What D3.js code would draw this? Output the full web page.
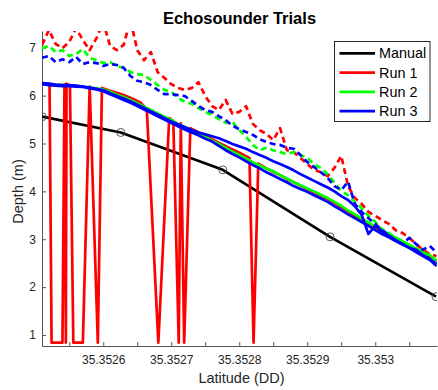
<!DOCTYPE html>
<html>
<head>
<meta charset="utf-8">
<script src="https://cdn.jsdelivr.net/npm/d3@7"></script>
<style>
  html, body { margin: 0; padding: 0; background: #ffffff; }
  svg { display: block; }
  text { font-family: "Liberation Sans", Arial, Helvetica, sans-serif; }
</style>
</head>
<body>
<div id="chart"></div>
<script>
// ---------------- DATA ----------------
const chartTitle = "Echosounder Trials";
const xLabel = "Latitude (DD)";
const yLabel = "Depth (m)";
const legendNames = ["Manual", "Run 1", "Run 2", "Run 3"];
const legendColors = ["#000000", "#ff0000", "#00ff00", "#0000ff"];

const xTickValues = [35.35255, 35.3526, 35.35265, 35.3527, 35.35275, 35.3528, 35.35285, 35.3529, 35.35295, 35.353, 35.35305];
const xTickLabels = ["", "35.3526", "", "35.3527", "", "35.3528", "", "35.3529", "", "35.353", ""];
const yTickValues = [1, 2, 3, 4, 5, 6, 7];
const xDomain = [35.3525099, 35.3530908];
const yDomain = [0.77, 7.35];

// Manual survey points
const manualLat = [35.3525104, 35.3526257, 35.3527757, 35.3529335, 35.3530894];
const manualDepth = [5.56, 5.23, 4.45, 3.05, 1.80];

// Common latitude samples of the echosounder tracks
const trackLat = [
  35.35251, 35.35252, 35.35253, 35.35254, 35.35255, 35.35256, 35.35257, 35.35258, 35.35259, 35.35260,
  35.35261, 35.35262, 35.35263, 35.35264, 35.35265, 35.35266, 35.35267, 35.35268, 35.35269, 35.35270,
  35.35271, 35.35272, 35.35273, 35.35274, 35.35275, 35.35276, 35.35277, 35.35278, 35.35279, 35.35280,
  35.35281, 35.35282, 35.35283, 35.35284, 35.35285, 35.35286, 35.35287, 35.35288, 35.35289, 35.35290,
  35.35291, 35.35292, 35.35293, 35.35294, 35.35295, 35.35296, 35.35297, 35.35298, 35.35299, 35.35300,
  35.35301, 35.35302, 35.35303, 35.35304, 35.35305, 35.35306, 35.35307, 35.35308, 35.35309
];

// Run 1 bottom track (own samples, with dropouts)
const run1Lat = [
  35.35251, 35.352517, 35.352521, 35.352524, 35.352529, 35.352535, 35.35254, 35.352543, 35.352545, 35.352546,
  35.352548, 35.352551, 35.352556, 35.352561, 35.35257, 35.35258, 35.352592, 35.352598, 35.35261, 35.352625,
  35.352639, 35.352654, 35.352664, 35.352681, 35.352697, 35.352703, 35.352711, 35.352714, 35.352719, 35.352728,
  35.352742, 35.352764, 35.352786, 35.352801, 35.352815, 35.352821, 35.352828,
  35.35284, 35.35285, 35.35286, 35.35287, 35.35288, 35.35289, 35.35290, 35.35291, 35.35292, 35.35293,
  35.35294, 35.35295, 35.35296, 35.35297, 35.35298, 35.35299, 35.35300, 35.35301, 35.35302, 35.35303,
  35.35304, 35.35305, 35.35306, 35.35307, 35.35308, 35.35309
];
const run1Depth = [
  6.26, 6.25, 6.24, 0.84, 0.84, 0.84, 0.84, 6.23, 0.84, 6.25,
  6.23, 6.21, 0.84, 0.84, 0.84, 6.19, 0.84, 6.16, 6.10, 6.04,
  5.96, 5.86, 5.72, 0.84, 5.53, 5.47, 0.84, 5.42, 0.84, 5.32,
  5.22, 5.06, 4.90, 4.80, 4.70, 0.84, 4.58,
  4.48, 4.41, 4.34, 4.26, 4.19, 4.12, 4.05, 3.98, 3.91, 3.84,
  3.76, 3.67, 3.58, 3.49, 3.41, 3.33, 3.25, 3.16, 3.09, 3.01,
  2.94, 2.86, 2.79, 2.71, 2.64, 2.53
];
const run1Dashed = [
  7.06, 7.37, 7.08, 6.99, 7.12, 7.41, 7.16, 6.95, 7.20, 7.54,
  7.04, 6.95, 7.06, 7.58, 6.95, 6.74, 6.91, 6.49, 6.37, 6.24,
  6.16, 6.12, 6.16, 6.28, 5.99, 5.78, 5.70, 5.91, 5.62, 5.66,
  5.78, 5.41, 5.28, 5.20, 5.07, 5.32, 4.86, 4.82, 4.70, 4.57,
  4.45, 4.40, 4.32, 4.49, 4.74, 4.11, 3.86, 3.74, 3.57, 3.49,
  3.40, 3.32, 3.19, 3.13, 3.03, 2.90, 2.78, 2.69, 2.65
];

// Run 2
const run2Solid = [
  6.25, 6.24, 6.23, 6.22, 6.21, 6.20, 6.19, 6.17, 6.15, 6.13,
  6.08, 6.02, 5.97, 5.91, 5.84, 5.77, 5.70, 5.63, 5.56, 5.49,
  5.41, 5.35, 5.28, 5.21, 5.14, 5.06, 4.99, 4.91, 4.83, 4.76,
  4.69, 4.61, 4.54, 4.48, 4.42, 4.34, 4.27, 4.19, 4.13, 4.06,
  4.00, 3.93, 3.86, 3.78, 3.70, 3.60, 3.52, 3.43, 3.35, 3.27,
  3.18, 3.11, 3.03, 2.96, 2.88, 2.81, 2.73, 2.67, 2.56
];
const run2Dashed = [
  6.99, 7.04, 6.91, 6.95, 6.83, 6.87, 6.97, 6.79, 6.74, 6.68,
  6.70, 6.62, 6.58, 6.49, 6.45, 6.43, 6.33, 6.22, 6.12, 6.08,
  5.95, 5.87, 5.83, 5.74, 5.66, 5.60, 5.51, 5.43, 5.45, 5.28,
  5.14, 4.97, 4.86, 4.91, 4.86, 4.82, 4.78, 4.82, 4.76, 4.70,
  4.57, 4.49, 4.36, 4.18, 4.01, 3.92, 3.78, 3.65, 3.49, 3.36,
  3.21, 3.13, 3.03, 2.96, 2.88, 2.80, 2.73, 2.63, 2.53
];

// Run 3
const run3SolidA = [
  6.24, 6.22, 6.21, 6.20, 6.20, 6.19, 6.18, 6.15, 6.13, 6.09,
  6.03, 5.97, 5.91, 5.85, 5.78, 5.71, 5.64, 5.57, 5.50, 5.43,
  5.36, 5.29, 5.23, 5.17, 5.10, 5.04, 4.95, 4.86, 4.78, 4.71,
  4.63, 4.55, 4.48, 4.40, 4.33, 4.26, 4.19, 4.11, 4.05, 3.99,
  3.92, 3.85, 3.78, 3.69, 3.61, 3.52, 3.44, 3.36, 3.28, 3.19,
  3.11, 3.04, 2.96, 2.89, 2.82, 2.73, 2.65, 2.57, 2.44
];
const run3SolidB = [
  6.26, 6.25, 6.23, 6.22, 6.22, 6.21, 6.19, 6.17, 6.14, 6.11,
  6.05, 5.99, 5.94, 5.88, 5.81, 5.74, 5.67, 5.60, 5.53, 5.46,
  5.40, 5.34, 5.28, 5.23, 5.19, 5.15, 5.11, 5.05, 4.99, 4.94,
  4.89, 4.82, 4.76, 4.70, 4.63, 4.57, 4.51, 4.44, 4.36, 4.29,
  4.22, 4.15, 4.08, 4.00, 3.90, 3.82, 3.69, 3.51, 3.11, 3.28,
  3.17, 3.07, 2.98, 2.90, 2.82, 2.78, 2.67, 2.59, 2.48
];
const run3Dashed = [
  6.79, 6.83, 6.70, 6.76, 6.70, 6.81, 6.66, 6.70, 6.68, 6.62,
  6.66, 6.64, 6.58, 6.41, 6.31, 6.28, 6.22, 6.12, 6.03, 6.03,
  6.01, 5.99, 5.89, 5.78, 5.70, 5.66, 5.57, 5.49, 5.37, 5.30,
  5.24, 5.18, 5.09, 5.03, 4.99, 4.97, 4.91, 4.89, 4.76, 4.61,
  4.51, 4.40, 4.28, 4.11, 4.03, 4.20, 3.74, 3.57, 3.44, 3.32,
  3.19, 3.09, 2.96, 2.90, 3.03, 2.90, 2.78, 2.86, 2.73
];

// ---------------- DRAWING ----------------
const W = 438, H = 390;
const plot = { left: 42, right: 437, top: 31, bottom: 346 };

const svg = d3.select("#chart").append("svg")
  .attr("width", W).attr("height", H)
  .attr("viewBox", `0 0 ${W} ${H}`);

svg.append("rect").attr("width", W).attr("height", H).attr("fill", "#ffffff");

const x = d3.scaleLinear().domain(xDomain).range([plot.left, plot.right]);
const y = d3.scaleLinear().domain(yDomain).range([plot.bottom, plot.top]);

svg.append("defs").append("clipPath").attr("id", "plotclip")
  .append("rect")
  .attr("x", plot.left).attr("y", plot.top)
  .attr("width", plot.right - plot.left).attr("height", plot.bottom - plot.top);

// Axes
const axisColor = "#262626";
const xAxis = d3.axisBottom(x)
  .tickValues(xTickValues)
  .tickFormat((d, i) => xTickLabels[i])
  .tickSizeInner(-4).tickSizeOuter(0).tickPadding(9.5);
const yAxis = d3.axisLeft(y)
  .tickValues(yTickValues)
  .tickFormat(d3.format("d"))
  .tickSizeInner(-4).tickSizeOuter(0).tickPadding(6);

const gx = svg.append("g").attr("transform", `translate(0,${plot.bottom})`).call(xAxis);
const gy = svg.append("g").attr("transform", `translate(${plot.left},0)`).call(yAxis);
[gx, gy].forEach(g => {
  g.select(".domain").attr("stroke", "#555555").attr("stroke-width", 1);
  g.selectAll(".tick line").attr("stroke", "#555555").attr("stroke-width", 1);
  g.selectAll(".tick text").attr("fill", axisColor).attr("font-size", "12px")
    .attr("font-family", '"Liberation Sans", Arial, sans-serif');
});

// Data layer
const layer = svg.append("g").attr("clip-path", "url(#plotclip)");
const line = d3.line().x(d => x(d[0])).y(d => y(d[1]));
const zipXY = (xs, ys) => d3.range(Math.min(xs.length, ys.length)).map(i => [xs[i], ys[i]]);

function drawLine(xs, ys, color, dashed) {
  layer.append("path")
    .datum(zipXY(xs, ys))
    .attr("d", line)
    .attr("fill", "none")
    .attr("stroke", color)
    .attr("stroke-width", 2.7)
    .attr("stroke-linejoin", "round")
    .attr("stroke-dasharray", dashed ? "6,4" : null);
}

// Manual
drawLine(manualLat, manualDepth, "#000000", false);
layer.selectAll("circle.manual")
  .data(zipXY(manualLat, manualDepth))
  .enter().append("circle")
  .attr("class", "manual")
  .attr("cx", d => x(d[0])).attr("cy", d => y(d[1]))
  .attr("r", 4)
  .attr("fill", "none").attr("stroke", "#444444").attr("stroke-width", 0.9);

// Run 1
drawLine(run1Lat, run1Depth, "#ff0000", false);
drawLine(trackLat, run1Dashed, "#ff0000", true);
// Run 2
drawLine(trackLat, run2Solid, "#00ff00", false);
drawLine(trackLat, run2Dashed, "#00ff00", true);
// Run 3
drawLine(trackLat, run3SolidA, "#0000ff", false);
drawLine(trackLat, run3SolidB, "#0000ff", false);
drawLine(trackLat, run3Dashed, "#0000ff", true);

// Title and labels
svg.append("text")
  .attr("x", (plot.left + plot.right) / 2).attr("y", 24)
  .attr("text-anchor", "middle")
  .attr("font-size", "16.5px").attr("font-weight", "bold").attr("fill", "#000000")
  .text(chartTitle);

svg.append("text")
  .attr("x", (plot.left + plot.right) / 2 + 2).attr("y", 383)
  .attr("text-anchor", "middle")
  .attr("font-size", "14.5px").attr("fill", axisColor)
  .text(xLabel);

svg.append("text")
  .attr("transform", `translate(23,${(plot.top + plot.bottom) / 2 + 3}) rotate(-90)`)
  .attr("text-anchor", "middle")
  .attr("font-size", "14.5px").attr("fill", axisColor)
  .text(yLabel);

// Legend
const leg = svg.append("g");
leg.append("rect")
  .attr("x", 334.5).attr("y", 41.5).attr("width", 95.5).attr("height", 80)
  .attr("fill", "#ffffff").attr("stroke", "#262626").attr("stroke-width", 1);
const legY = [53.3, 72.6, 91.9, 111.2];
legendNames.forEach((name, i) => {
  leg.append("line")
    .attr("x1", 339.5).attr("x2", 375).attr("y1", legY[i]).attr("y2", legY[i])
    .attr("stroke", legendColors[i]).attr("stroke-width", 2.7);
  leg.append("text")
    .attr("x", 379).attr("y", legY[i]).attr("dy", "0.36em")
    .attr("font-size", "14.4px").attr("fill", "#000000")
    .text(name);
});
</script>
</body>
</html>
